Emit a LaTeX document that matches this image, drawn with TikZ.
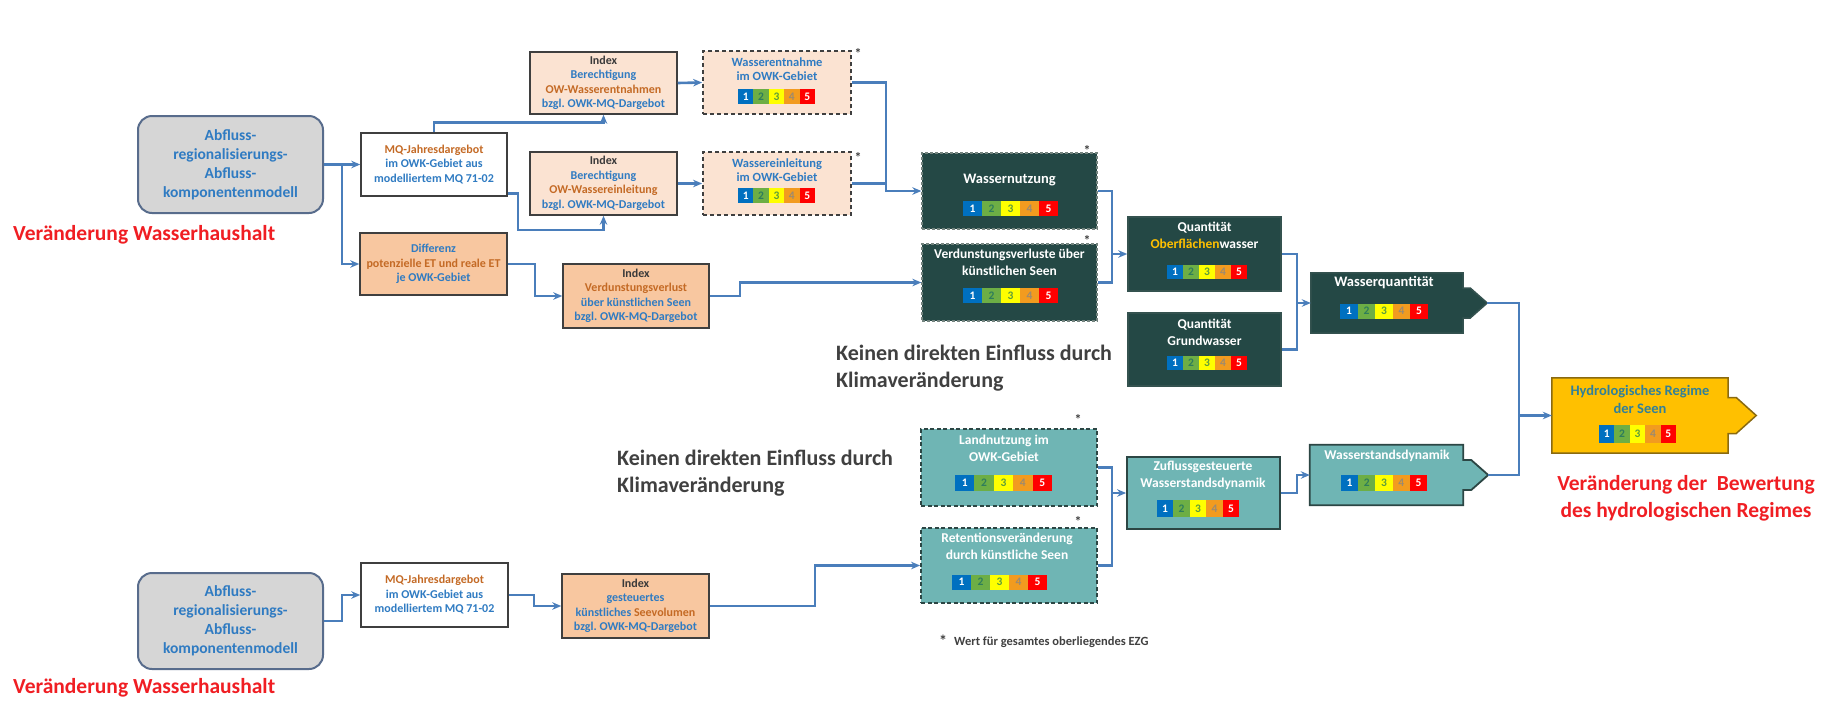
\documentclass[tikz,border=0pt]{standalone}
\usepackage{fontspec}
\setmainfont{Carlito}
\usetikzlibrary{arrows.meta,backgrounds}
\frenchspacing
\definecolor{cblue}{HTML}{4A7EBB}
\definecolor{btext}{HTML}{2F7BC2}
\definecolor{otext}{HTML}{C46A25}
\definecolor{dtext}{HTML}{3A3A3A}
\definecolor{peachL}{HTML}{FBE3D2}
\definecolor{peachD}{HTML}{F8C7A0}
\definecolor{grayF}{HTML}{D6D6D6}
\definecolor{grayB}{HTML}{586C8C}
\definecolor{darkT}{HTML}{244845}
\definecolor{darkTB}{HTML}{34524F}
\definecolor{darkTD}{HTML}{74847F}
\definecolor{lightT}{HTML}{6FB5B4}
\definecolor{lightTB}{HTML}{2C4644}
\definecolor{gold}{HTML}{FFC000}
\definecolor{goldB}{HTML}{8A6A10}
\definecolor{hrtext}{HTML}{31809A}
\definecolor{redT}{HTML}{F01E23}
\definecolor{grayT}{HTML}{404040}
\definecolor{boxB}{HTML}{3F3F3F}
\definecolor{s1}{HTML}{0070C0}\definecolor{t1}{HTML}{FFFFFF}
\definecolor{s2}{HTML}{6DAE45}\definecolor{t2}{HTML}{2E7D5B}
\definecolor{s3}{HTML}{FFFF00}\definecolor{t3}{HTML}{5E9E3A}
\definecolor{s4}{HTML}{F29B1F}\definecolor{t4}{HTML}{9C8A70}
\definecolor{s5}{HTML}{FF0000}\definecolor{t5}{HTML}{FFFFFF}
\newcommand\fA{\fontsize{15.5}{19}\selectfont\bfseries}
\newcommand\fS{\fontsize{12}{14.5}\selectfont\bfseries}
\newcommand\fD{\fontsize{12.5}{14}\selectfont\bfseries}
\newcommand\fM{\fontsize{13.5}{17}\selectfont\bfseries}
\newcommand\fH{\fontsize{14.5}{18}\selectfont\bfseries}
\newcommand\fR{\fontsize{21.5}{27}\selectfont\bfseries}
\newcommand\fK{\fontsize{22}{27}\selectfont\bfseries}
\newcommand\fC{\fontsize{11.5}{11.5}\selectfont\bfseries}
\newcommand\rscale[5]{%
  \foreach \i in {1,...,5}{%
    \node[cell, fill=s\i, text=t\i, minimum width=#4pt, minimum height=#5pt] (#1-\i) at ({#2+(\i-3)*#4},#3) {\i};}}
\tikzset{
  conn/.style={draw=cblue, line width=2.6pt, -{Stealth[length=9pt,width=7.5pt]}},
  wire/.style={draw=cblue, line width=2.6pt},
  cell/.style={inner sep=0pt, font=\fC},
  graybox/.style={draw=grayB, line width=2pt, fill=grayF, rounded corners=14pt, align=center, font=\fA, inner sep=0pt},
  whitebox/.style={draw=boxB, line width=1.5pt, fill=white, align=center, font=\fS, inner sep=0pt},
  peachbox/.style={draw=boxB, line width=1.5pt, fill=peachL, align=center, font=\fS, inner sep=0pt},
  peachdbox/.style={draw=boxB, line width=1.5pt, fill=peachD, align=center, font=\fS, inner sep=0pt},
  dashpeach/.style={draw=boxB, line width=1.8pt, dash pattern=on 4pt off 3pt, fill=peachL, inner sep=0pt},
  darkdash/.style={draw=darkTD, line width=1.3pt, dash pattern=on 3pt off 2pt, fill=darkT, inner sep=0pt},
  darksolid/.style={draw=darkTB, line width=1.5pt, fill=darkT, inner sep=0pt},
  lightdash/.style={draw=lightTB, line width=1.8pt, dash pattern=on 4pt off 2.5pt, fill=lightT, inner sep=0pt},
  lightsolid/.style={draw=lightTB, line width=1.8pt, fill=lightT, inner sep=0pt},
  shapebox/.style={draw=none, inner sep=0pt},
  wtxt/.style={align=center, text=white, font=\fM, inner sep=0pt},
  btxt/.style={align=center, text=btext, font=\fD, inner sep=0pt},
  redlbl/.style={text=redT, font=\fR, inner sep=0pt},
  klbl/.style={text=grayT, font=\fK, align=left, inner sep=0pt},
  star/.style={text=grayT, font=\fontsize{14}{14}\selectfont\bfseries, inner sep=0pt},
}
\begin{document}
\begin{tikzpicture}[x=1pt,y=-1pt]
\useasboundingbox (0,0) rectangle (1825,702);

% ---- upper left
\node[graybox, minimum width=185pt, minimum height=97pt] (A1) at (230.5,164.5)
  {\textcolor{btext}{Abfluss-}\\\textcolor{btext}{regionalisierungs-}\\\textcolor{btext}{Abfluss-}\\\textcolor{btext}{komponentenmodell}};
\node[redlbl, anchor=west] (R1) at (13,235) {Veränderung Wasserhaushalt};
\node[whitebox, minimum width=146pt, minimum height=63pt] (MQ1) at (434,164.5)
  {\textcolor{otext}{MQ-Jahresdargebot}\\\textcolor{btext}{im OWK-Gebiet aus}\\\textcolor{btext}{modelliertem MQ 71-02}};
\node[peachbox, minimum width=147pt, minimum height=62pt] (IB1) at (603.5,83)
  {\textcolor{dtext}{Index}\\\textcolor{btext}{Berechtigung}\\\textcolor{otext}{OW-Wasserentnahmen}\\\textcolor{btext}{bzgl. OWK-MQ-Dargebot}};
\node[peachbox, minimum width=147pt, minimum height=63pt] (IB2) at (603.5,183.5)
  {\textcolor{dtext}{Index}\\\textcolor{btext}{Berechtigung}\\\textcolor{otext}{OW-Wassereinleitung}\\\textcolor{btext}{bzgl. OWK-MQ-Dargebot}};
\node[dashpeach, minimum width=148pt, minimum height=63pt] (D1) at (777,82.5) {};
\node[btxt] (D1t) at (777,69) {Wasserentnahme\\im OWK-Gebiet};
\rscale{D1s}{776.5}{96.5}{15.4}{15}
\node[star] (D1a) at (858,53) {*};
\node[dashpeach, minimum width=148pt, minimum height=63pt] (D2) at (777,183.5) {};
\node[btxt] (D2t) at (777,170) {Wassereinleitung\\im OWK-Gebiet};
\rscale{D2s}{776.5}{195.5}{15.4}{15}
\node[star] (D2a) at (858,157) {*};
\node[peachdbox, minimum width=147pt, minimum height=62pt] (Diff) at (433.5,264)
  {\textcolor{btext}{Differenz}\\\textcolor{otext}{potenzielle ET und reale ET}\\\textcolor{btext}{je OWK-Gebiet}};
\node[peachdbox, minimum width=146pt, minimum height=64pt] (IV) at (636,296)
  {\textcolor{dtext}{Index}\\\textcolor{otext}{Verdunstungsverlust}\\\textcolor{btext}{über künstlichen Seen}\\\textcolor{btext}{bzgl. OWK-MQ-Dargebot}};

% ---- dark boxes
\node[darkdash, minimum width=175pt, minimum height=76pt] (WN) at (1009.5,191) {};
\node[wtxt, font=\fontsize{14.5}{17}\selectfont\bfseries] (WNt) at (1009.5,180) {Wassernutzung};
\rscale{WNs}{1010.5}{208.5}{19}{15}
\node[star] (WNa) at (1087,150) {*};
\node[darkdash, minimum width=175pt, minimum height=77pt] (VV) at (1009.5,282.5) {};
\node[wtxt] (VVt) at (1009.5,262.5) {Verdunstungsverluste über\\künstlichen Seen};
\rscale{VVs}{1010.5}{295.5}{19}{15}
\node[star] (VVa) at (1087,240) {*};
\node[darksolid, minimum width=153pt, minimum height=74pt] (QO) at (1204.5,254) {};
\node[wtxt] (QOt) at (1204.5,235.5) {Quantität\\\textcolor{gold}{Oberflächen}wasser};
\rscale{QOs}{1207}{272}{16}{14}
\node[darksolid, minimum width=153pt, minimum height=73pt] (QG) at (1204.5,349.5) {};
\node[wtxt] (QGt) at (1204.5,332.5) {Quantität\\Grundwasser};
\rscale{QGs}{1207}{363}{16}{14}
\node[shapebox, minimum width=152pt, minimum height=60pt] (WQ) at (1387,303) {};

% ---- lower teal
\node[lightdash, minimum width=176pt, minimum height=77pt] (LN) at (1009,467.5) {};
\node[wtxt] (LNt) at (1004,448.5) {Landnutzung im\\OWK-Gebiet};
\rscale{LNs}{1003.5}{483}{19.4}{16}
\node[star] (LNa) at (1078,419) {*};
\node[lightdash, minimum width=176pt, minimum height=75pt] (RV) at (1009,565.5) {};
\node[wtxt] (RVt) at (1007,546.5) {Retentionsveränderung\\durch künstliche Seen};
\rscale{RVs}{999.5}{582}{19}{15}
\node[star] (RVa) at (1078,521) {*};
\node[lightsolid, minimum width=153pt, minimum height=72pt] (ZW) at (1203.5,493) {};
\node[wtxt] (ZWt) at (1203,475) {Zuflussgesteuerte\\Wasserstandsdynamik};
\rscale{ZWs}{1198}{508.5}{16.5}{17}
\node[shapebox, minimum width=153pt, minimum height=60pt] (WD) at (1386.5,475) {};
\node[shapebox, minimum width=176pt, minimum height=75pt] (HR) at (1640,415.5) {};

% ---- bottom left
\node[graybox, minimum width=185pt, minimum height=96pt] (A2) at (230.5,621)
  {\textcolor{btext}{Abfluss-}\\\textcolor{btext}{regionalisierungs-}\\\textcolor{btext}{Abfluss-}\\\textcolor{btext}{komponentenmodell}};
\node[redlbl, anchor=west] (R2) at (13,688) {Veränderung Wasserhaushalt};
\node[whitebox, minimum width=147pt, minimum height=64pt] (MQ2) at (434.5,595)
  {\textcolor{otext}{MQ-Jahresdargebot}\\\textcolor{btext}{im OWK-Gebiet aus}\\\textcolor{btext}{modelliertem MQ 71-02}};
\node[peachdbox, minimum width=147pt, minimum height=64pt] (IG) at (635.5,606)
  {\textcolor{dtext}{Index}\\\textcolor{btext}{gesteuertes}\\\textcolor{btext}{künstliches }\textcolor{otext}{Seevolumen}\\\textcolor{btext}{bzgl. OWK-MQ-Dargebot}};

% ---- labels
\node[klbl, anchor=west] (K1) at (836,368) {Keinen direkten Einfluss durch\\Klimaveränderung};
\node[klbl, anchor=west] (K2) at (617,473) {Keinen direkten Einfluss durch\\Klimaveränderung};
\node[redlbl, align=center] (RT) at (1686,498.5) {Veränderung der\ \ Bewertung\\des hydrologischen Regimes};
\node[star, font=\fontsize{16}{16}\selectfont\bfseries] (FS) at (943,641) {*};
\node[text=grayT, font=\fontsize{12.5}{12.5}\selectfont\bfseries, anchor=west, inner sep=0pt] (FT) at (954,642) {Wert für gesamtes oberliegendes EZG};

% ---- tip coordinates
\coordinate (wqtip) at ([xshift=24pt]WQ.east);
\coordinate (wdtip) at ([xshift=25pt]WD.east);
\coordinate (hrtip) at ([xshift=28pt]HR.east);

% ---- tab shapes on background
\begin{scope}[on background layer]
\fill[white] (0,0) rectangle (1825,702);
\draw[draw=darkTB, line width=1.5pt, fill=darkT] (WQ.north west) -- (WQ.north east) -- ([yshift=15pt]WQ.east) -- ([xshift=7pt,yshift=15pt]WQ.east) -- (wqtip) -- ([xshift=7pt,yshift=-15pt]WQ.east) -- ([yshift=-15pt]WQ.east) -- (WQ.south east) -- (WQ.south west) -- cycle;
\draw[draw=lightTB, line width=1.8pt, fill=lightT] (WD.north west) -- (WD.north east) -- ([yshift=15pt]WD.east) -- ([xshift=8pt,yshift=15pt]WD.east) -- (wdtip) -- ([xshift=8pt,yshift=-15pt]WD.east) -- ([yshift=-15pt]WD.east) -- (WD.south east) -- (WD.south west) -- cycle;
\draw[draw=goldB, line width=1.5pt, fill=gold] (HR.north west) -- (HR.north east) -- ([yshift=18pt]HR.east) -- ([xshift=8pt,yshift=18pt]HR.east) -- (hrtip) -- ([xshift=8pt,yshift=-18pt]HR.east) -- ([yshift=-18pt]HR.east) -- (HR.south east) -- (HR.south west) -- cycle;
\end{scope}
\node[wtxt, font=\fontsize{14.5}{17}\selectfont\bfseries] (WQt) at (1384,283) {Wasserquantität};
\rscale{WQs}{1384}{311}{17.5}{15}
\node[wtxt] (WDt) at (1387,456) {Wasserstandsdynamik};
\rscale{WDs}{1384}{483}{17.2}{16}
\node[wtxt, text=hrtext, font=\fH] (HRt) at (1640,399) {Hydrologisches Regime\\der Seen};
\rscale{HRs}{1637.5}{434}{15.4}{18}

% ---- connectors
\coordinate (b1) at (342,164.5);
\draw[conn] (A1.east) -- (MQ1.west);
\draw[conn] (b1) |- (Diff.west);
\draw[conn] (MQ1.north) -- ++(0,-10) -| (IB1.south);
\coordinate (m1) at ([yshift=3pt]MQ1.south east);
\coordinate (j2) at (518,230);
\draw[conn] (m1) -| (j2) -| (IB2.south);
\draw[conn] (IB1.east) -- (D1.west);
\draw[conn] (IB2.east) -- (D2.west);
\coordinate (j3) at (886,191);
\draw[conn] (D1.east) -| (j3) -- (WN.west);
\draw[wire] (D2.east) -- (D2.east -| j3);
\coordinate (j4) at (1112,254);
\draw[wire] (WN.east) -| (j4) |- (VV.east);
\draw[conn] (j4) -- (QO.west);
\coordinate (j5) at (535,296);
\draw[conn] (Diff.east) -| (j5) -- (IV.west);
\coordinate (j6) at (740,282.5);
\draw[conn] (IV.east) -| (j6) -- (VV.west);
\coordinate (j7) at (1297,303);
\draw[wire] (QO.east) -| (j7) |- (QG.east);
\draw[conn] (j7) -- (WQ.west);
\coordinate (j8) at (1519,415.5);
\draw[wire] (wqtip) -| (j8) |- (wdtip);
\draw[conn] (j8) -- (HR.west);
\coordinate (b2) at (342,595);
\draw[conn] (A2.east) -| (b2) -- (MQ2.west);
\coordinate (j9) at (534,606);
\draw[conn] (MQ2.east) -| (j9) -- (IG.west);
\coordinate (j10) at (815,565.5);
\draw[conn] (IG.east) -| (j10) -- (RV.west);
\coordinate (j11) at (1112,493);
\draw[wire] (LN.east) -| (j11) |- (RV.east);
\draw[conn] (j11) -- (ZW.west);
\coordinate (j12) at (1297,475);
\draw[conn] (ZW.east) -| (j12) -- (WD.west);
\end{tikzpicture}
\end{document}
